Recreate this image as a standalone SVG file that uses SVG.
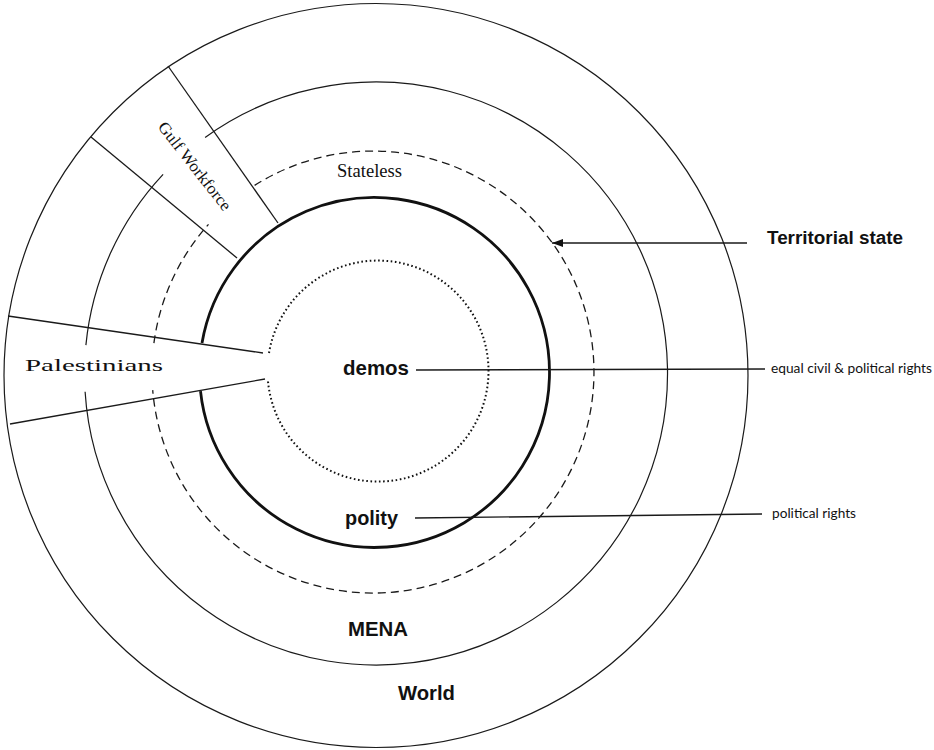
<svg xmlns="http://www.w3.org/2000/svg" width="934" height="750" viewBox="0 0 934 750">
  <defs>
    <style>
      .thin { fill: none; stroke: #1a1a1a; stroke-width: 1.2; }
      .dash { fill: none; stroke: #1a1a1a; stroke-width: 1.3; stroke-dasharray: 8 5; }
      .thick { fill: none; stroke: #111; stroke-width: 2.8; }
      .dot { fill: none; stroke: #111; stroke-width: 2; stroke-dasharray: 1.6 2.6; }
      .ray { stroke: #1a1a1a; stroke-width: 1.3; fill: none; }
      .lbl { stroke: #1a1a1a; stroke-width: 1.4; fill: none; }
      .serif { font-family: "Liberation Serif", "DejaVu Serif", serif; fill: #111; }
      .bold { font-family: "Liberation Sans", Arial, sans-serif; font-weight: bold; fill: #111; }
      .note { font-family: Lato, "Open Sans", "Liberation Sans", sans-serif; fill: #111; }
    </style>
    <marker id="arrow" markerWidth="12" markerHeight="10" refX="11" refY="5" orient="auto" markerUnits="userSpaceOnUse">
      <path d="M0,1 L11,5 L0,9 Z" fill="#111"/>
    </marker>
  </defs>

  <rect x="0" y="0" width="934" height="750" fill="#ffffff"/>

  <g id="world">
    <circle class="thin" cx="376" cy="375.5" r="372"/>
    <text class="bold" x="398" y="700" font-size="20" textLength="57" lengthAdjust="spacingAndGlyphs">World</text>
  </g>

  <g id="mena">
    <path class="thin" d="M205.1,137.4 A291.5,291.5 0 1 1 85.1,391.8"/>
    <path class="thin" d="M85.9,345.1 A291.5,291.5 0 0 1 163.1,174.3"/>
    <text class="bold" x="348" y="636" font-size="20" textLength="60" lengthAdjust="spacingAndGlyphs">MENA</text>
  </g>

  <g id="stateless">
    <path class="dash" d="M254.6,185.4 A221,221 0 1 1 152.7,390.1"/>
    <path class="dash" d="M153.9,343.2 A221,221 0 0 1 208.5,224.4"/>
    <text class="serif" x="337" y="177" font-size="18" textLength="65" lengthAdjust="spacingAndGlyphs">Stateless</text>
  </g>

  <g id="polity">
    <path class="thick" d="M202,343 A175,175 0 1 1 200.5,391.1"/>
    <text class="bold" x="345" y="525" font-size="20.5" textLength="53" lengthAdjust="spacingAndGlyphs">polity</text>
  </g>

  <g id="demos">
    <path class="dot" d="M269,353 A110.5,110.5 0 1 1 267.8,379"/>
    <text class="bold" x="343" y="375" font-size="21" textLength="66" lengthAdjust="spacingAndGlyphs">demos</text>
  </g>

  <g id="gulf-workforce">
    <line class="ray" x1="168" y1="66" x2="278" y2="223"/>
    <line class="ray" x1="91" y1="137" x2="237" y2="258"/>
    <text class="serif" font-size="16.5" text-anchor="middle" transform="translate(190.5,169.5) rotate(52)" textLength="108" lengthAdjust="spacingAndGlyphs">Gulf Workforce</text>
  </g>

  <g id="palestinians">
    <line class="ray" x1="8" y1="316" x2="263" y2="353"/>
    <line class="ray" x1="10" y1="424" x2="265" y2="379"/>
    <text class="serif" x="25" y="371" font-size="16.5" textLength="138" lengthAdjust="spacingAndGlyphs">Palestinians</text>
  </g>

  <g id="territorial-state">
    <text class="bold" x="767" y="244" font-size="18" textLength="136" lengthAdjust="spacingAndGlyphs">Territorial  state</text>
  </g>

  <g id="rights-equal">
    <text class="note" x="771" y="373" font-size="14" textLength="161" lengthAdjust="spacingAndGlyphs">equal civil &amp; political  rights</text>
  </g>

  <g id="rights-political">
    <text class="note" x="772" y="518" font-size="14" textLength="84" lengthAdjust="spacingAndGlyphs">political rights</text>
  </g>

  <g id="connectors">
    <line class="lbl" x1="747" y1="243" x2="552" y2="243" stroke-width="1.8" marker-end="url(#arrow)"/>
    <line class="lbl" x1="416" y1="370" x2="765" y2="369"/>
    <line class="lbl" x1="415" y1="518" x2="762" y2="514"/>
  </g>
</svg>
